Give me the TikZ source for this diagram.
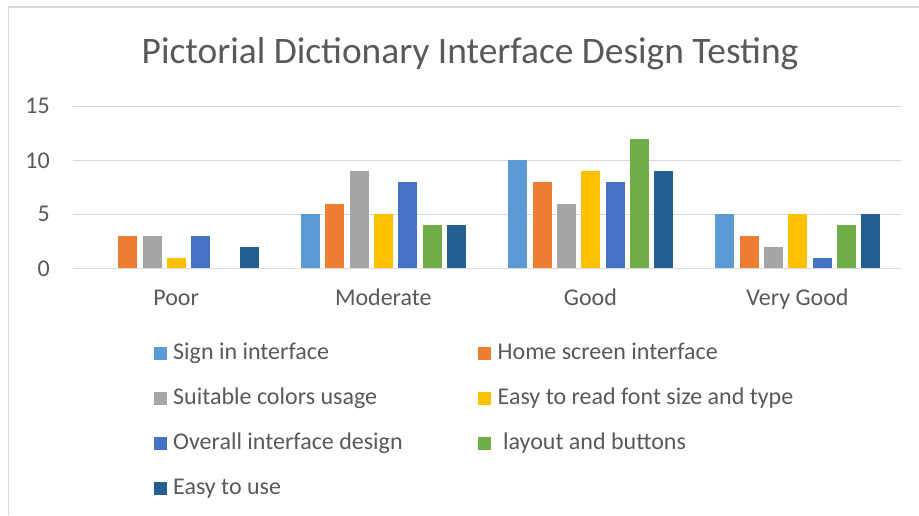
\documentclass[tikz,border=0pt]{standalone}
\usepackage{fontspec}
\setmainfont{Carlito}
\definecolor{serA}{HTML}{5B9BD5}
\definecolor{serB}{HTML}{ED7D31}
\definecolor{serC}{HTML}{A5A5A5}
\definecolor{serD}{HTML}{FFC000}
\definecolor{serE}{HTML}{4472C4}
\definecolor{serF}{HTML}{70AD47}
\definecolor{serG}{HTML}{255E91}
\definecolor{txtgray}{HTML}{595959}
\definecolor{gridgray}{HTML}{D9D9D9}
\tikzset{
  frameline/.style={draw=gridgray, line width=1.5pt},
  gridline/.style={draw=gridgray, line width=1.5pt},
  axislabel/.style={inner sep=0pt, text=txtgray, font=\fontsize{24}{28}\selectfont},
  legendtext/.style={inner sep=0pt, anchor=base west, text=txtgray, font=\fontsize{24}{28}\selectfont},
  legendkey/.style={inner sep=0pt, minimum width=13pt, minimum height=13pt},
}
\begin{document}
\begin{tikzpicture}[x=1pt,y=-1pt]
\useasboundingbox (0,0) rectangle (919,515);
\fill[white] (0,0) rectangle (919,515);
% chart frame
\draw[frameline] (919,7) -- (8.7,7) -- (8.7,515);
% title
\node[inner sep=0pt, anchor=base, text=txtgray, font=\fontsize{37.4}{44}\selectfont] (title) at (470,63.3) {Pictorial Dictionary Interface Design Testing};
% gridlines and value labels
\foreach \v in {0,5,10,15} {
  \draw[gridline] (72.7,268.3-10.8*\v) -- (901,268.3-10.8*\v);
  \node[axislabel, anchor=east] (ylab\v) at (50,268.3-10.8*\v) {\v};
}
% bars
\foreach \k/\vals in {0/{0,3,3,1,3,0,2},1/{5,6,9,5,8,4,4},2/{10,8,6,9,8,12,9},3/{5,3,2,5,1,4,5}} {
  \foreach \v [count=\s] in \vals {
    \pgfmathsetmacro{\xl}{94+207.1*\k+24.33*(\s-1)}
    \ifnum\v>0
      \pgfmathparse{{"serA","serB","serC","serD","serE","serF","serG"}[\s-1]}
      \edef\barcol{\pgfmathresult}
      \fill[\barcol] (\xl,268.3) rectangle (\xl+19,268.3-10.8*\v);
    \fi
  }
}
% category labels
\foreach \c/\lab [count=\i from 0] in {poor/Poor,moderate/Moderate,good/Good,verygood/Very Good} {
  \node[axislabel, anchor=base] (cat\c) at (176.2+207.1*\i,305) {\lab};
}
% legend
\foreach \col/\x/\y/\lab [count=\n] in {
  serA/153.5/353/{Sign in interface},
  serB/478/353/{Home screen interface},
  serC/153.5/398/{Suitable colors usage},
  serD/478/398/{Easy to read font size and type},
  serE/153.5/443/{Overall interface design},
  serF/478/443/{\ layout and buttons},
  serG/153.5/488/{Easy to use}} {
  \node[legendkey, fill=\col, anchor=west] (key\n) at (\x,\y) {};
  \node[legendtext] (leg\n) at (\x+19.5,\y+6.5) {\lab};
}
\end{tikzpicture}
\end{document}
